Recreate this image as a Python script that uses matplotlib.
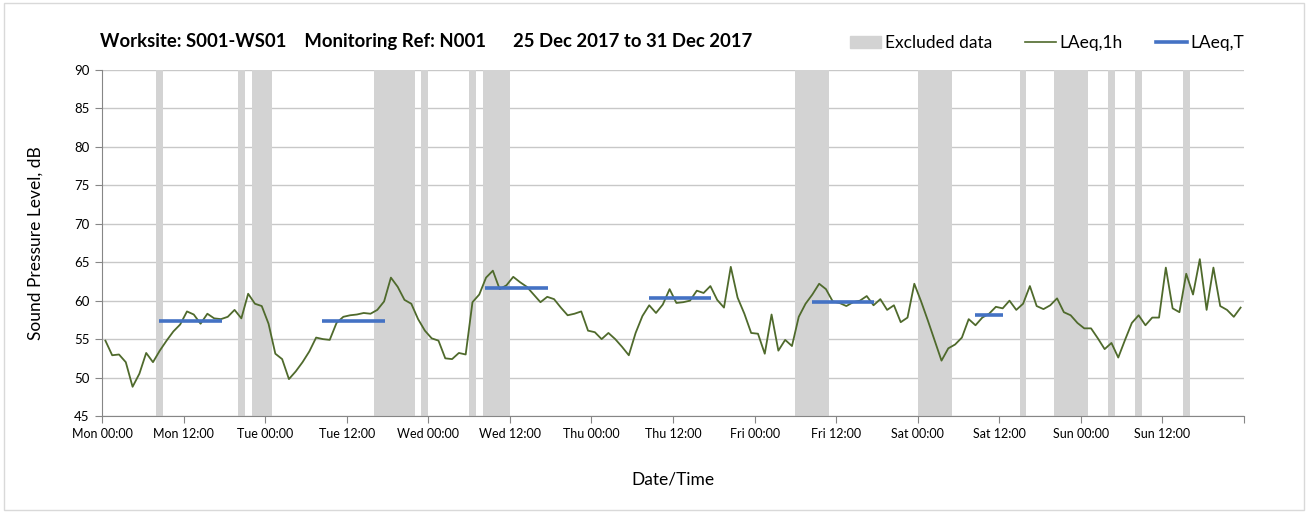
import matplotlib
matplotlib.use("Agg")
import matplotlib.pyplot as plt
import matplotlib.patches as mpatches
from matplotlib.lines import Line2D
import numpy as np

# Hourly LAeq,1h values, Mon 00:00 .. Sun 23:00 (plotted at the middle of each hour)
laeq_1h = [
	54.8, 52.9, 53.0, 52.0, 48.8, 50.5, 53.2, 52.0, 53.5, 54.8, 56.0, 56.9,
	58.6, 58.2, 57.0, 58.3, 57.7, 57.6, 57.9, 58.8, 57.7, 60.9, 59.6, 59.3,
	57.0, 53.1, 52.4, 49.8, 50.8, 52.0, 53.4, 55.2, 55.0, 54.9, 57.1, 57.9,
	58.1, 58.2, 58.4, 58.3, 58.8, 59.9, 63.0, 61.8, 60.1, 59.6, 57.6, 56.1,
	55.1, 54.8, 52.5, 52.4, 53.2, 53.0, 59.8, 60.8, 63.0, 63.9, 61.5, 62.0,
	63.1, 62.4, 61.8, 60.8, 59.8, 60.5, 60.2, 59.1, 58.1, 58.3, 58.6, 56.1,
	55.9, 55.0, 55.8, 55.0, 54.0, 52.9, 55.8, 58.0, 59.4, 58.4, 59.5, 61.5,
	59.7, 59.8, 60.0, 61.3, 61.0, 61.9, 60.1, 59.1, 64.4, 60.4, 58.3, 55.8,
	55.7, 53.1, 58.2, 53.5, 54.9, 54.1, 57.9, 59.6, 60.8, 62.2, 61.5, 59.9,
	59.7, 59.3, 59.8, 60.0, 60.6, 59.4, 60.2, 58.8, 59.4, 57.2, 57.8, 62.2,
	59.9, 57.4, 54.8, 52.2, 53.8, 54.3, 55.2, 57.6, 56.8, 57.8, 58.3, 59.2,
	59.0, 60.0, 58.8, 59.6, 61.9, 59.3, 58.9, 59.4, 60.3, 58.5, 58.1, 57.1,
	56.4, 56.4, 55.1, 53.7, 54.5, 52.6, 54.9, 57.1, 58.1, 56.8, 57.8, 57.8,
	64.3, 59.0, 58.5, 63.5, 60.8, 65.4, 58.8, 64.3, 59.3, 58.8, 57.9, 59.1,
]

# Excluded periods, hours from Mon 00:00
excluded_start = [8, 20, 22, 40, 47, 54, 56, 102, 120, 135, 140, 148, 152, 159]
excluded_end = [9, 21, 25, 46, 48, 55, 60, 107, 125, 136, 145, 149, 153, 160]

# LAeq,T periods (hours from Mon 00:00) and levels
period_start = [8.4, 32.4, 56.4, 80.4, 104.4, 128.4]
period_end = [17.7, 41.7, 65.6, 89.6, 113.6, 132.6]
period_level = [57.4, 57.4, 61.7, 60.4, 59.8, 58.2]

tick_labels = ["Mon 00:00", "Mon 12:00", "Tue 00:00", "Tue 12:00", "Wed 00:00",
	"Wed 12:00", "Thu 00:00", "Thu 12:00", "Fri 00:00", "Fri 12:00",
	"Sat 00:00", "Sat 12:00", "Sun 00:00", "Sun 12:00", ""]

plt.rcParams["font.family"] = ["Lato", "DejaVu Sans"]

fig = plt.figure(figsize=(13.09, 5.13), dpi=100)
ax = fig.add_axes([102 / 1309, 1 - 416 / 513, (1244 - 102) / 1309, (416 - 70) / 513])

# Chart area border
fig.patches.append(mpatches.Rectangle((0.003, 0.006), 0.993, 0.988, transform=fig.transFigure,
	fill=False, edgecolor="#D9D9D9", linewidth=1.0))

# Excluded data bands
for s, e in zip(excluded_start, excluded_end):
	ax.axvspan(s, e, color="#D3D3D3", linewidth=0, zorder=1)

hours = np.arange(len(laeq_1h)) + 0.5
ax.plot(hours, laeq_1h, color="#4F6A2C", linewidth=1.3, zorder=3)

for s, e, lv in zip(period_start, period_end, period_level):
	ax.plot([s, e], [lv, lv], color="#4472C4", linewidth=2.6, solid_capstyle="butt", zorder=4)

# Axes, ticks and grid
ax.set_xlim(0, 168)
ax.set_ylim(45, 90)
ax.set_xticks(np.arange(0, 169, 12))
ax.set_xticklabels(tick_labels, fontsize=9)
ax.set_xticks(np.arange(24, 169, 24), minor=True)
ax.set_yticks(np.arange(45, 91, 5))
ax.tick_params(axis="y", labelsize=9.5, length=5, color="#868686", pad=4)
ax.tick_params(axis="x", which="major", length=5, color="#868686", pad=4)
ax.tick_params(axis="x", which="minor", length=0)
ax.grid(axis="y", color="#C8C8C8", linewidth=1.0, zorder=0)
ax.grid(axis="x", which="minor", color="#DDDDDD", linewidth=1.0, zorder=0)
ax.set_axisbelow(True)
for side in ["top", "right"]:
	ax.spines[side].set_visible(False)
for side in ["left", "bottom"]:
	ax.spines[side].set_color("#868686")
	ax.spines[side].set_zorder(5)

ax.set_xlabel("Date/Time", fontsize=12.5, labelpad=22)
ax.set_ylabel("Sound Pressure Level, dB", fontsize=12.5, labelpad=22)

# Title and legend
fig.text(100 / 1309, 1 - 42 / 513, "Worksite: S001-WS01    Monitoring Ref: N001      25 Dec 2017 to 31 Dec 2017",
	fontsize=13.3, fontweight="bold", va="center", ha="left")

handles = [
	mpatches.Patch(color="#D3D3D3", label="Excluded data"),
	Line2D([0], [0], color="#4F6A2C", linewidth=1.2, label="LAeq,1h"),
	Line2D([0], [0], color="#4472C4", linewidth=2.6, label="LAeq,T"),
]
fig.legend(handles=handles, loc="center right", bbox_to_anchor=(1260 / 1309, 1 - 43 / 513), ncol=3,
	frameon=False, fontsize=12.5, handlelength=1.8, handletextpad=0.2, columnspacing=1.9)

fig.savefig("out.png", dpi=100)
